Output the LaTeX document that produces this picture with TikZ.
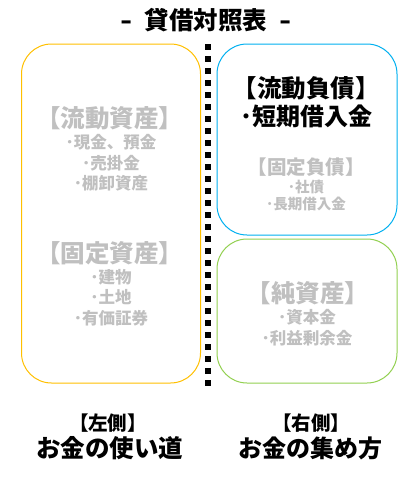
\documentclass[tikz,border=0pt]{standalone}
\usepackage{fontspec}
\setmainfont{Noto Sans CJK JP}[BoldFont={Noto Sans CJK JP Black}]
\definecolor{lg}{RGB}{192,192,192}
\definecolor{yb}{RGB}{255,192,0}
\definecolor{cb}{RGB}{0,176,240}
\definecolor{gb}{RGB}{146,208,80}
\begin{document}
\begin{tikzpicture}[x=1pt,y=-1pt,
  box/.style={rounded corners=30pt,line width=1pt},
  t/.style={inner sep=0pt,font=\bfseries\fontsize{#1}{#1}\selectfont},
  g/.style={t=#1,text=lg}]
\useasboundingbox[fill=white] (0,0) rectangle (416,480);
\draw[box,draw=yb] (21.5,44) rectangle (200.5,383);
\draw[box,draw=cb] (217,44) rectangle (397,235);
\draw[box,draw=gb] (217,239) rectangle (397,383);
\coordinate (d1) at (208,44);
\coordinate (d2) at (208,390);
\draw[line width=5.5pt,dash pattern=on 5.5pt off 6.5pt] (d1) -- (d2);
\node[t=24.5] (title) at (206,20) {\scalebox{1.3}[1]{-}\hspace{12pt}貸借対照表\hspace{12pt}\scalebox{1.3}[1]{-}};
% left
\node[g=24.5] (l1) at (110,118) {【流動資産】};
\node[g=16.5] (l2) at (111,142) {･現金、預金};
\node[g=16.5] (l3) at (111,163) {･売掛金};
\node[g=16.5] (l4) at (111,183) {･棚卸資産};
\node[g=24.5] (l5) at (110,253) {【固定資産】};
\node[g=16.5] (l6) at (111,277) {･建物};
\node[g=16.5] (l7) at (111,297) {･土地};
\node[g=16.5] (l8) at (111,318) {･有価証券};
% right top
\node[t=24.5] (r1) at (306,88) {【流動負債】};
\node[t=24] (r2) at (306,116) {･短期借入金};
\node[g=19.5] (r3) at (306,167) {【固定負債】};
\node[g=14.5] (r4) at (306,187) {･社債};
\node[g=14.5] (r5) at (306,204) {･長期借入金};
% right bottom
\node[g=24.5] (r6) at (308,293) {【純資産】};
\node[g=16.5] (r7) at (307,317) {･資本金};
\node[g=16.5] (r8) at (307,338) {･利益剰余金};
% bottom
\node[t=19.5] (b1) at (108,423) {【左側】};
\node[t=24.5] (b2) at (110,448) {お金の使い道};
\node[t=19.5] (b3) at (311,423) {【右側】};
\node[t=24] (b4) at (310,448) {お金の集め方};
\end{tikzpicture}
\end{document}
